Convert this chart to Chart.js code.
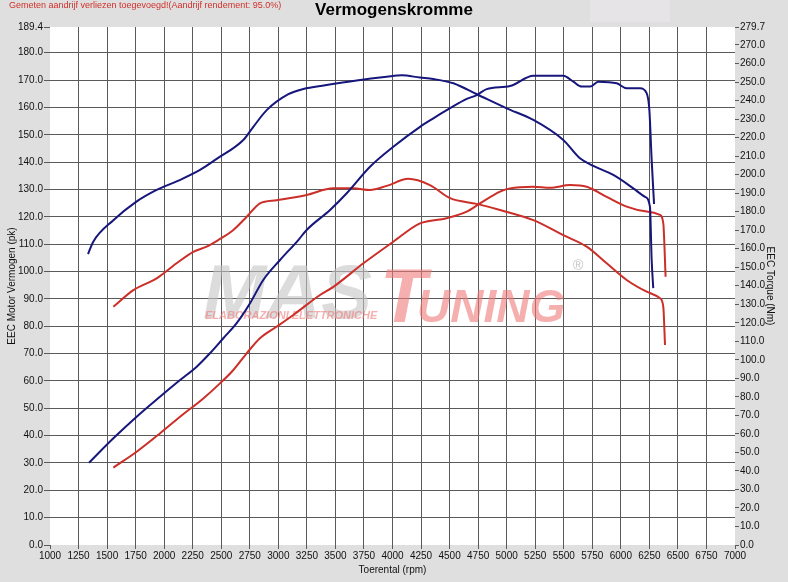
<!DOCTYPE html>
<html>
<head>
<meta charset="utf-8">
<script src="https://cdn.jsdelivr.net/npm/chart.js@4/dist/chart.umd.min.js"></script>
<style>
html,body{margin:0;padding:0;background:#dfdfdf;overflow:hidden;}
#wrap{width:788px;height:582px;position:relative;}
</style>
</head>
<body>
<div id="wrap"><canvas id="c" width="788" height="582"></canvas></div>
<script>
// ---------- DATA ----------
const chartTitle = "Vermogenskromme";
const noteText = "Gemeten aandrijf verliezen toegevoegd!(Aandrijf rendement: 95.0%)";
const xTitle = "Toerental (rpm)";
const yLeftTitle = "EEC Motor Vermogen (pk)";
const yRightTitle = "EEC Torque (Nm)";

const xTicks = [1000,1250,1500,1750,2000,2250,2500,2750,3000,3250,3500,3750,4000,4250,4500,4750,5000,5250,5500,5750,6000,6250,6500,6750,7000];
const leftTicks = [0,10,20,30,40,50,60,70,80,90,100,110,120,130,140,150,160,170,180,189.4];
const rightTicks = [0,10,20,30,40,50,60,70,80,90,100,110,120,130,140,150,160,170,180,190,200,210,220,230,240,250,260,270,279.7];

// Tuned power (pk)
const tunedPowerRpm = [1342,1555,1759,1963,2139,2285,2401,2518,2635,2752,2868,3015,3175,3248,3453,3599,3803,4007,4241,4358,4504,4650,4738,4825,5029,5234,5496,5584,5657,5730,5803,5964,6051,6168,6226,6250,6270,6291];
const tunedPowerPk  = [30.1,39.0,46.9,54.2,60.3,65.2,70.1,75.6,81.1,88.4,96.9,104.2,111.5,115.2,122.5,128.6,138.3,145.6,152.9,156.0,159.7,163.1,164.5,166.7,167.8,171.6,171.6,169.4,167.6,167.6,169.4,168.8,167.0,167.0,165.2,159.0,140.8,124.7];

// Tuned torque (Nm)
const tunedTorqueRpm = [1333,1379,1555,1745,1934,2124,2314,2460,2693,2781,2898,3088,3219,3409,3686,3949,4080,4241,4358,4533,4738,5000,5234,5496,5642,5759,5934,6109,6212,6255,6270,6284];
const tunedTorqueNm  = [157.1,163.8,175.4,184.9,191.7,196.7,202.5,208.5,218.7,225.8,234.8,243.4,246.2,248.2,250.8,252.8,253.6,252.4,251.6,249.3,243.4,235.8,229.5,218.7,208.8,204.7,199.8,192.6,188.0,182.7,153.9,138.7];

// Stock power (pk)
const stockPowerRpm = [1555,1759,1963,2139,2343,2489,2606,2723,2839,2985,3131,3365,3482,3745,4007,4241,4474,4650,4766,4942,5029,5234,5380,5555,5701,5876,6051,6226,6343,6372,6392];
const stockPowerPk  = [28.3,34.1,40.8,46.9,53.6,59.1,64.0,70.1,75.6,79.8,84.1,91.4,94.4,103.0,110.9,117.6,119.5,121.9,124.9,129.2,130.4,131.0,130.6,131.6,131.0,127.3,123.7,121.9,120.7,117.6,98.1];

// Stock torque (Nm)
const stockTorqueRpm = [1555,1730,1934,2109,2255,2372,2474,2606,2723,2839,2985,3248,3482,3657,3803,3949,4138,4328,4504,4738,4942,5234,5496,5701,5876,6051,6226,6343,6372,6387];
const stockTorqueNm  = [128.6,137.6,144.0,152.1,158.3,161.1,164.7,170.1,177.2,184.5,186.2,189.0,192.6,192.6,191.7,193.9,197.7,194.3,187.3,184.2,180.9,175.4,167.3,161.1,152.1,143.1,136.8,133.2,128.6,108.0];

// ---------- CHART ----------
const pts = (xs, ys) => xs.map((x, i) => ({x: x, y: ys[i]}));
const BLUE = '#16167c';
const RED = '#cc2e28';
const GRID = '#5a5a5a';
const FONT = '"Liberation Sans", Arial, sans-serif';

const bgPlugin = {
  id: 'bg',
  beforeDraw(chart) {
    const {ctx, chartArea: a} = chart;
    ctx.save();
    ctx.fillStyle = '#dfdfdf';
    ctx.fillRect(0, 0, chart.width, chart.height);
    ctx.fillStyle = '#e7e4e7';
    ctx.fillRect(590, 0, 80, 22);
    ctx.fillStyle = '#ffffff';
    ctx.fillRect(a.left, a.top, a.right - a.left, a.bottom - a.top);
    ctx.restore();
  },
  beforeDatasetsDraw(chart) {
    const {ctx} = chart;
    ctx.save();
    ctx.globalAlpha = 0.6;
    ctx.textBaseline = 'alphabetic';
    ctx.fillStyle = '#c4c4c4';
    ctx.font = 'italic bold 76px ' + FONT;
    ctx.fillText('MAS', 203, 318);
    ctx.fillStyle = '#ee7a78';
    ctx.fillText('T', 380, 322);
    ctx.font = 'italic bold 46px ' + FONT;
    ctx.fillText('UNING', 417, 322);
    ctx.font = 'italic bold 11px ' + FONT;
    ctx.fillText('ELABORAZIONI ELETTRONICHE', 205, 319);
    ctx.fillStyle = '#999';
    ctx.font = '14px ' + FONT;
    ctx.fillText('\u00AE', 573, 270);
    ctx.restore();
  },
  afterDraw(chart) {
    const {ctx} = chart;
    ctx.save();
    ctx.textBaseline = 'middle';
    ctx.fillStyle = '#d0302a';
    ctx.font = '9px ' + FONT;
    ctx.textAlign = 'left';
    ctx.fillText(noteText, 9, 6);
    ctx.fillStyle = '#000';
    ctx.font = 'bold 17px ' + FONT;
    ctx.textAlign = 'center';
    ctx.fillText(chartTitle, 394, 10);
    ctx.restore();
  }
};

const lineDs = (label, data, color, axis) => ({
  label: label,
  data: data,
  yAxisID: axis,
  borderColor: color,
  backgroundColor: color,
  borderWidth: 2,
  pointRadius: 0,
  fill: false,
  cubicInterpolationMode: 'monotone'
});

new Chart(document.getElementById('c'), {
  type: 'line',
  data: {
    datasets: [
      lineDs('Vermogen (tuned)', pts(tunedPowerRpm, tunedPowerPk), BLUE, 'y'),
      lineDs('Torque (tuned)', pts(tunedTorqueRpm, tunedTorqueNm), BLUE, 'y2'),
      lineDs('Vermogen (origineel)', pts(stockPowerRpm, stockPowerPk), RED, 'y'),
      lineDs('Torque (origineel)', pts(stockTorqueRpm, stockTorqueNm), RED, 'y2')
    ]
  },
  options: {
    responsive: false,
    animation: false,
    devicePixelRatio: 1,
    layout: {padding: {top: 27, left: 0, right: 0, bottom: 0}},
    plugins: {legend: {display: false}, tooltip: {enabled: false}, title: {display: false}},
    scales: {
      x: {
        type: 'linear', min: 1000, max: 7000,
        afterBuildTicks: s => { s.ticks = xTicks.map(v => ({value: v})); },
        afterFit: s => { s.height = 37; },
        border: {display: false},
        grid: {
          color: c => (c.tick && (c.tick.value === 1000 || c.tick.value === 7000)) ? 'rgba(0,0,0,0)' : GRID,
          tickColor: GRID, tickLength: 4, lineWidth: 1
        },
        ticks: {
          autoSkip: false, maxRotation: 0, padding: 1, color: '#111',
          font: {family: FONT, size: 10},
          callback: v => String(v)
        },
        title: {display: true, text: xTitle, color: '#111', font: {family: FONT, size: 10}, padding: {top: 0, bottom: 6}}
      },
      y: {
        type: 'linear', position: 'left', min: 0, max: 189.4,
        afterBuildTicks: s => { s.ticks = leftTicks.map(v => ({value: v})); },
        afterFit: s => { s.width = 50; },
        border: {display: false},
        grid: {
          color: c => (c.tick && (c.tick.value === 0 || c.tick.value === 189.4)) ? 'rgba(0,0,0,0)' : GRID,
          tickColor: GRID, tickLength: 6, lineWidth: 1
        },
        ticks: {
          padding: 1, color: '#111', font: {family: FONT, size: 10},
          callback: v => Number(v).toFixed(1)
        },
        title: {display: true, text: yLeftTitle, color: '#111', font: {family: FONT, size: 10}, padding: {top: 6, bottom: 0}}
      },
      y2: {
        type: 'linear', position: 'right', min: 0, max: 279.7,
        afterBuildTicks: s => { s.ticks = rightTicks.map(v => ({value: v})); },
        afterFit: s => { s.width = 53; },
        border: {display: false},
        grid: {drawOnChartArea: false, tickColor: GRID, tickLength: 4, lineWidth: 1},
        ticks: {
          padding: 1, color: '#111', font: {family: FONT, size: 10},
          callback: v => Number(v).toFixed(1)
        },
        title: {display: true, text: yRightTitle, color: '#111', font: {family: FONT, size: 10}, padding: {top: 12, bottom: 0}}
      }
    }
  },
  plugins: [bgPlugin]
});
</script>
</body>
</html>
